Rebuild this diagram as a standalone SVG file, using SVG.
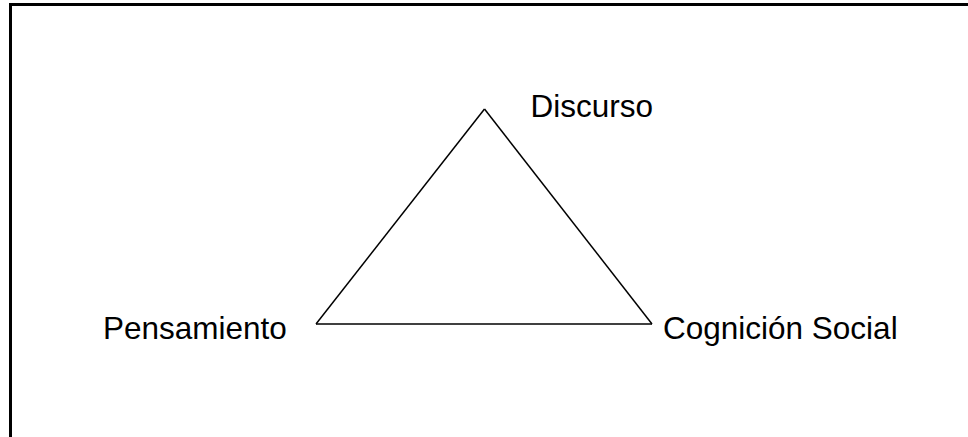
<svg xmlns="http://www.w3.org/2000/svg" width="968" height="437" viewBox="0 0 968 437">
<style>
.lbl{font-family:"Liberation Sans",Arial,sans-serif;font-size:31.5px;fill:#000}
.edge{stroke:#000;stroke-width:1.5;fill:none}
</style>
<rect x="0" y="0" width="968" height="437" fill="#fff"/>
<rect x="10.5" y="4.5" width="1000" height="500" fill="none" stroke="#000" stroke-width="3"/>
<g id="connectors">
<line class="edge" x1="484.5" y1="109" x2="316" y2="324"/>
<line class="edge" x1="484.5" y1="109" x2="652" y2="324"/>
<line class="edge" x1="316" y1="324" x2="652" y2="324"/>
</g>
<g id="discurso"><text class="lbl" x="530.5" y="117">Discurso</text></g>
<g id="pensamiento"><text class="lbl" x="103" y="339">Pensamiento</text></g>
<g id="cognicion"><text class="lbl" x="663" y="339">Cognición Social</text></g>
</svg>
